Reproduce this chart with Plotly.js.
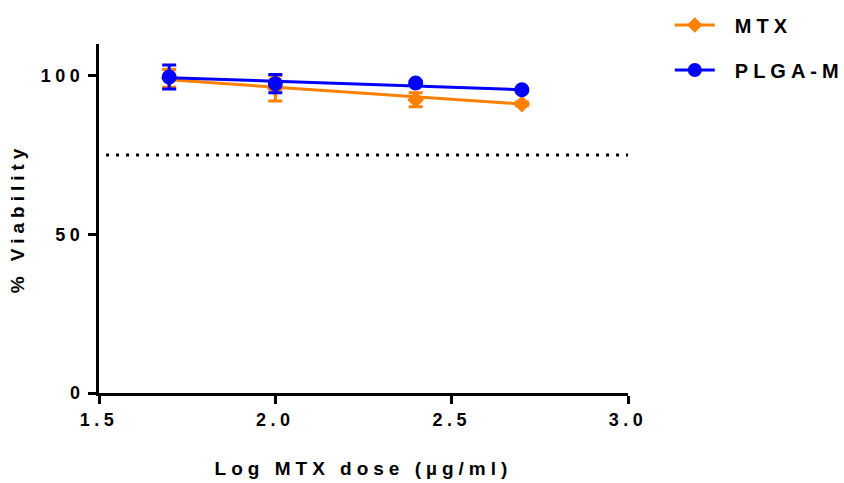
<!DOCTYPE html>
<html>
<head>
<meta charset="utf-8">
<script src="https://cdn.plot.ly/plotly-3.0.1.min.js"></script>
<style>
body { margin: 0; background: #fff; }
#chart { width: 844px; height: 483px; }
.xtitle, .ytitle { letter-spacing: 5px; }
.xtick text, .ytick text { letter-spacing: 4.5px; }
</style>
</head>
<body>
<div id="chart"></div>
<script>
// Data (log10 of MTX dose in µg/ml)
const logDose = [1.699, 2.0, 2.398, 2.699];
const mtxMean = [99.2, 96.0, 92.4, 91.1];
const mtxErr = [2.8, 4.0, 2.2, 0.6];
const plgaMean = [99.6, 97.5, 97.7, 95.6];
const plgaErr = [3.8, 2.9, 0.5, 0.4];
// Linear fit lines (at the end doses)
const fitX = [1.699, 2.699];
const mtxFit = [98.7, 91.1];
const plgaFit = [99.4, 95.6];
const cutoff = 75;
const seriesNames = ['MTX', 'PLGA-M'];
const colors = ['#FF8000', '#0000FF'];

const font = { family: 'Liberation Sans, Arial, sans-serif', color: '#000', weight: 'bold' };
const pad = '\u2002';

const traces = [
  { x: fitX, y: mtxFit, mode: 'lines', line: { color: colors[0], width: 3 }, showlegend: false, hoverinfo: 'skip' },
  { x: logDose, y: mtxMean, mode: 'markers', marker: { symbol: 'diamond', size: 13, color: colors[0] },
    error_y: { type: 'data', array: mtxErr, color: colors[0], thickness: 3, width: 7 }, showlegend: false },
  { x: fitX, y: plgaFit, mode: 'lines', line: { color: colors[1], width: 3 }, showlegend: false, hoverinfo: 'skip' },
  { x: logDose, y: plgaMean, mode: 'markers', marker: { symbol: 'circle', size: 15, color: colors[1] },
    error_y: { type: 'data', array: plgaErr, color: colors[1], thickness: 3, width: 7 }, showlegend: false },
  { x: [null], y: [null], mode: 'lines+markers', name: pad + seriesNames[0], legend: 'legend',
    line: { color: colors[0], width: 3 }, marker: { symbol: 'diamond', size: 12, color: colors[0] } },
  { x: [null], y: [null], mode: 'lines+markers', name: pad + seriesNames[1], legend: 'legend2',
    line: { color: colors[1], width: 3 }, marker: { symbol: 'circle', size: 14, color: colors[1] } }
];

const legendFont = Object.assign({}, font, { size: 20 });
const layout = {
  width: 844, height: 483,
  margin: { l: 99, r: 216, t: 44, b: 90, autoexpand: false },
  paper_bgcolor: '#fff', plot_bgcolor: '#fff',
  font: font,
  showlegend: true,
  legend: { x: 1.079, xanchor: 'left', y: (393 - 25) / 349, yanchor: 'middle', font: legendFont,
    itemwidth: 40, bgcolor: 'rgba(0,0,0,0)', borderwidth: 0 },
  legend2: { x: 1.079, xanchor: 'left', y: (393 - 70) / 349, yanchor: 'middle', font: legendFont,
    itemwidth: 40, bgcolor: 'rgba(0,0,0,0)', borderwidth: 0 },
  xaxis: {
    range: [1.5, 3.0], tickvals: [1.5, 2.0, 2.5, 3.0], ticktext: ['1.5', '2.0', '2.5', '3.0'],
    showline: true, linecolor: '#000', linewidth: 3, ticks: 'outside', ticklen: 8, tickwidth: 3, tickcolor: '#000',
    showgrid: false, zeroline: false, tickfont: Object.assign({}, font, { size: 18 }),
    title: { text: 'Log MTX dose (µg/ml)', font: Object.assign({}, font, { size: 19 }), standoff: 34 },
    automargin: false
  },
  yaxis: {
    range: [0, 110], tickvals: [0, 50, 100],
    showline: true, linecolor: '#000', linewidth: 3, ticks: 'outside', ticklen: 8, tickwidth: 3, tickcolor: '#000',
    showgrid: false, zeroline: false, tickfont: Object.assign({}, font, { size: 18 }),
    title: { text: '% Viability', font: Object.assign({}, font, { size: 19 }), standoff: 12 },
    automargin: false
  },
  shapes: [
    { type: 'line', xref: 'x', yref: 'y', x0: 1.52, x1: 3.0, y0: cutoff, y1: cutoff,
      line: { color: '#000', width: 3, dash: '3px,7px' } }
  ]
};

Plotly.newPlot('chart', traces, layout, { displayModeBar: false, staticPlot: true }).then(function (gd) {
  gd.querySelectorAll('.infolayer [class*="legend"] text').forEach(function (t) {
    t.style.letterSpacing = '5px';
  });
  gd.querySelectorAll('.infolayer [class*="legend"][clip-path], .infolayer [class*="legend"] [clip-path]').forEach(function (e) {
    e.removeAttribute('clip-path');
  });
});
</script>
</body>
</html>
